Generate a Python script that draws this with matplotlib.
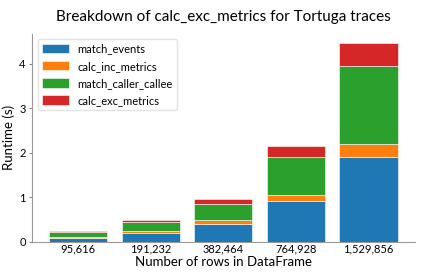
import matplotlib
matplotlib.use("Agg")
import matplotlib.pyplot as plt
import numpy as np

plt.rcParams['font.family'] = ['Lato', 'DejaVu Sans']

# data (seconds)
rows = ["95,616", "191,232", "382,464", "764,928", "1,529,856"]
match_events = [0.09, 0.195, 0.41, 0.91, 1.91]
calc_inc_metrics = [0.02, 0.045, 0.07, 0.15, 0.28]
match_caller_callee = [0.11, 0.21, 0.38, 0.84, 1.77]
calc_exc_metrics = [0.025, 0.04, 0.10, 0.26, 0.50]

series = [
    ("match_events", match_events, "#1f77b4"),
    ("calc_inc_metrics", calc_inc_metrics, "#ff7f0e"),
    ("match_caller_callee", match_caller_callee, "#2ca02c"),
    ("calc_exc_metrics", calc_exc_metrics, "#d62728"),
]

fig = plt.figure(figsize=(4.26, 2.77), dpi=100)
ax = fig.add_axes([0.075, 0.127, 0.899, 0.752])

x = np.arange(len(rows))
bottom = np.zeros(len(rows))
for name, vals, color in series:
    vals = np.array(vals)
    ax.bar(x, vals, 0.8, bottom=bottom, color=color, label=name,
           edgecolor="white", linewidth=0.4)
    bottom += vals

ax.set_xticks(x)
ax.set_xticklabels(rows)
ax.set_yticks([0, 1, 2, 3, 4])
ax.tick_params(axis='both', labelsize=8, length=2.5, color="#888888", pad=2)
ax.tick_params(axis='x', length=0, pad=1.5)
for s in ["top", "right"]:
    ax.spines[s].set_visible(False)
for s in ["left", "bottom"]:
    ax.spines[s].set_color("#999999")
    ax.spines[s].set_linewidth(0.8)

ax.set_xlabel("Number of rows in DataFrame", fontsize=9.5, labelpad=1)
ax.set_ylabel("Runtime (s)", fontsize=9.5, labelpad=3)
ax.set_title("Breakdown of calc_exc_metrics for Tortuga traces", fontsize=11, pad=9)
ax.legend(loc="upper left", fontsize=8, frameon=True, edgecolor="#dddddd",
          handlelength=2.4, handleheight=0.9, labelspacing=0.55,
          borderaxespad=0.5)

fig.savefig("out.png", dpi=100)
